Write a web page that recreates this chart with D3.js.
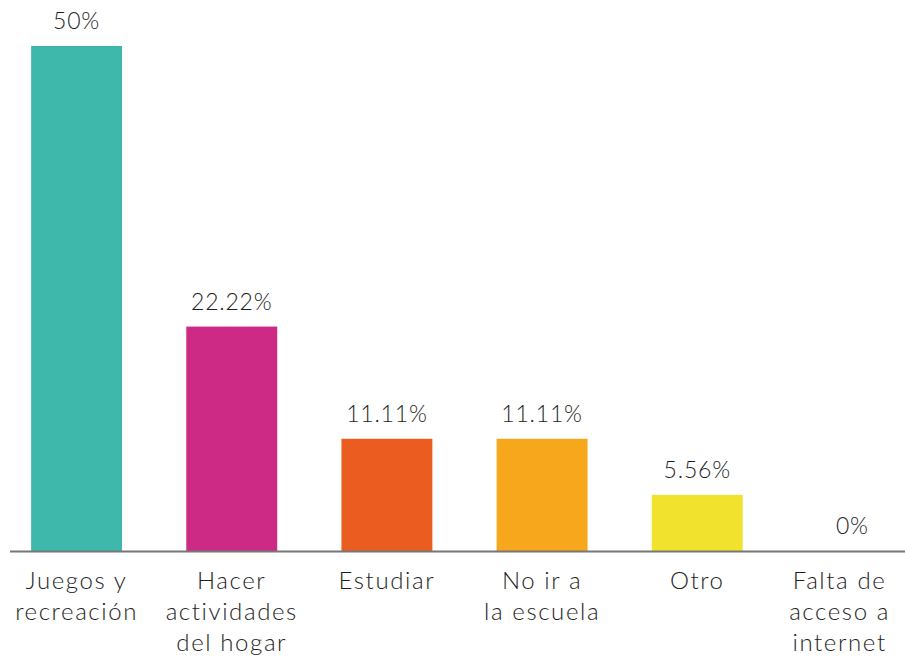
<!DOCTYPE html>
<html>
<head>
<meta charset="utf-8">
<script src="https://cdn.jsdelivr.net/npm/d3@7"></script>
<style>
  html, body { margin: 0; padding: 0; background: #fff; }
  svg text { font-family: "Lato", "Open Sans", sans-serif; font-weight: 300; fill: #1e1e1e; }
</style>
</head>
<body>
<svg id="chart" width="905" height="660"></svg>
<script>
// Categories (each label split into display lines) and their shares
const categories = [
  ["Juegos y", "recreación"],
  ["Hacer", "actividades", "del hogar"],
  ["Estudiar"],
  ["No ir a", "la escuela"],
  ["Otro"],
  ["Falta de", "acceso a", "internet"]
];
const values = [50, 22.22, 11.11, 11.11, 5.56, 0];
const valueLabels = ["50%", "22.22%", "11.11%", "11.11%", "5.56%", "0%"];
const colors = ["#3db8aa", "#cc2a84", "#ea5c20", "#f6a71b", "#f1e22d", "#cccccc"];

const width = 905;
const svg = d3.select("#chart");
const baseY = 551;
const topY = 46;

const x = d3.scaleBand()
  .domain(d3.range(values.length))
  .range([-1, 930])
  .paddingInner(0.414)
  .paddingOuter(0.207);

const y = d3.scaleLinear().domain([0, 50]).range([baseY, topY]);

// bars
svg.append("g").selectAll("rect")
  .data(values)
  .join("rect")
  .attr("x", (d, i) => x(i))
  .attr("width", x.bandwidth())
  .attr("y", d => y(d))
  .attr("height", d => baseY - y(d))
  .attr("fill", (d, i) => colors[i]);

// value labels above bars
svg.append("g").selectAll("text")
  .data(values)
  .join("text")
  .attr("x", (d, i) => x(i) + x.bandwidth() / 2)
  .attr("y", d => y(d) - 17)
  .attr("text-anchor", "middle")
  .attr("font-size", 23)
  .attr("letter-spacing", 0.8)
  .text((d, i) => valueLabels[i]);

// baseline axis
svg.append("line")
  .attr("x1", 10).attr("x2", width)
  .attr("y1", baseY + 0.5).attr("y2", baseY + 0.5)
  .attr("stroke", "#777").attr("stroke-width", 2);

// category labels, kept inside the right edge
const cat = svg.append("g").selectAll("text")
  .data(categories)
  .join("text")
  .attr("y", 589)
  .attr("text-anchor", "middle")
  .attr("font-size", 24)
  .attr("letter-spacing", 1.6);
cat.selectAll("tspan")
  .data(d => d)
  .join("tspan")
  .attr("dy", (d, j) => j === 0 ? 0 : 31)
  .text(d => d);
cat.each(function (d, i) {
  const t = d3.select(this);
  const widest = d3.max(t.selectAll("tspan").nodes(), n => n.getComputedTextLength());
  const cx = Math.min(x(i) + x.bandwidth() / 2, width - 15 - widest / 2);
  t.attr("x", cx);
  t.selectAll("tspan").attr("x", cx);
});
</script>
</body>
</html>
